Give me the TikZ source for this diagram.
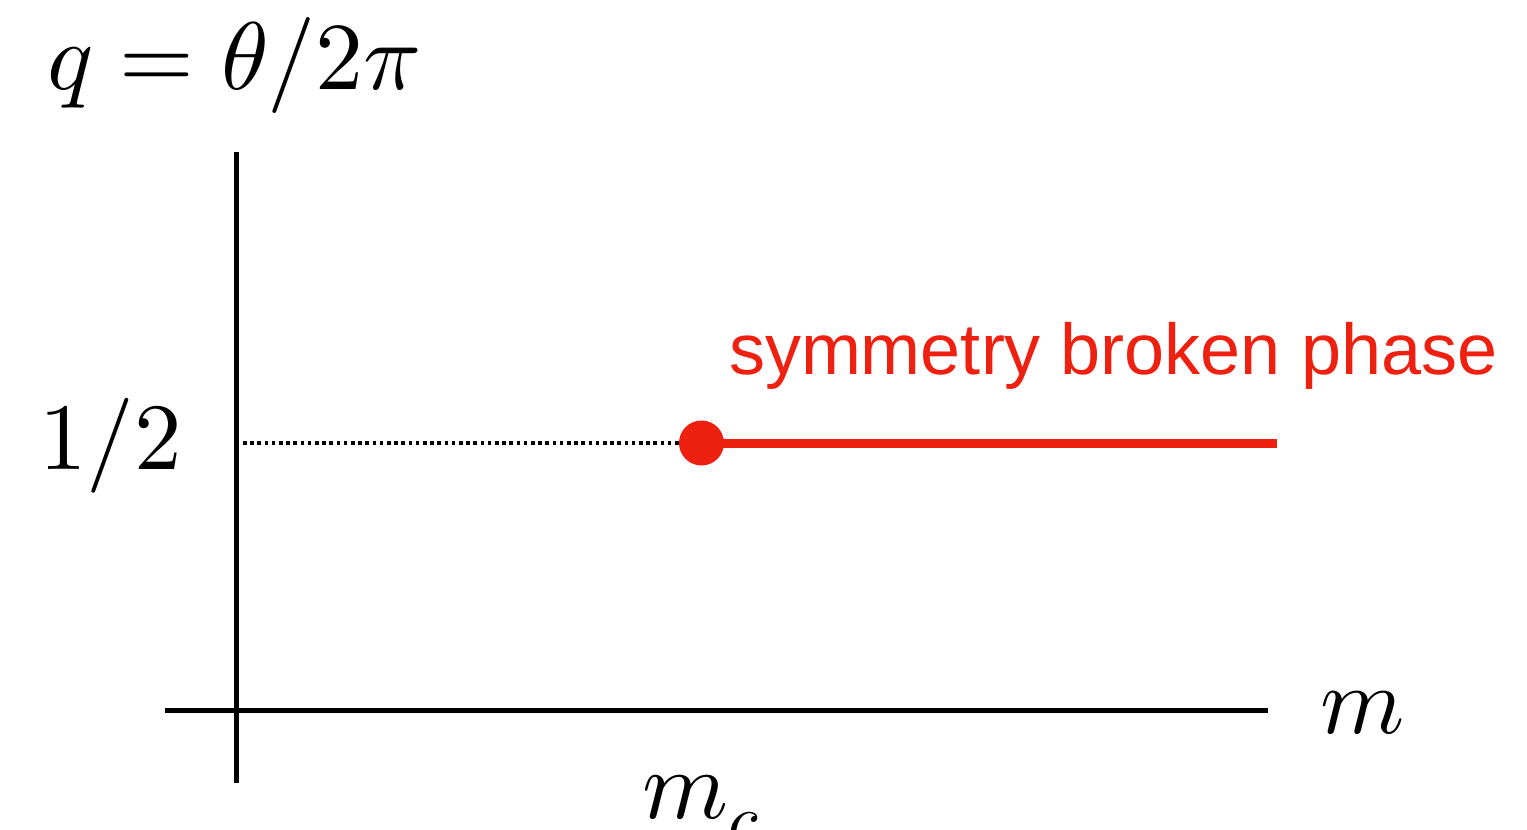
\documentclass[tikz,border=0pt]{standalone}
\usepackage{fontspec}
\usepackage{unicode-math}
\setmathfont{Latin Modern Math}
\newfontfamily\helv{Liberation Sans}
\definecolor{phasered}{RGB}{238,32,16}
\tikzset{
  axis/.style={line width=5pt, black},
  lbl/.style={inner sep=0pt, outer sep=0pt, anchor=base west},
}
\begin{document}
\begin{tikzpicture}[x=1pt,y=-1pt]
\useasboundingbox (0,0) rectangle (1527,830);
% axes
\coordinate (yb) at (236.5,783);
\coordinate (yt) at (236.5,152);
\coordinate (xl) at (165,710.5);
\coordinate (xr) at (1268,710.5);
\draw[axis] (yb) -- (yt);
\draw[axis] (xl) -- (xr);
% dotted line and critical point
\node[circle, fill=phasered, minimum size=45pt, inner sep=0pt] (crit) at (701.5,443) {};
\coordinate (ds) at (243,443);
\coordinate (re) at (1277,443);
\draw[line width=4pt, dash pattern=on 3.6pt off 3.6pt] (ds) -- (crit.west);
\draw[line width=9pt, phasered] (crit.center) -- (re);
% labels
\node[lbl, font=\fontsize{96}{105}\selectfont] (ql) at (47,89) {$q=\theta/2\pi$};
\node[lbl, font=\fontsize{95}{100}\selectfont] (half) at (39,469) {$1/2$};
\node[lbl, font=\fontsize{96}{105}\selectfont] (ml) at (1320,733) {$m$};
\node[lbl, font=\fontsize{98}{105}\selectfont] (mc) at (642,818) {$m_c$};
\node[lbl, text=phasered] (phase) at (729,374) {\helv\fontsize{72}{80}\selectfont symmetry broken phase};
\end{tikzpicture}
\end{document}
